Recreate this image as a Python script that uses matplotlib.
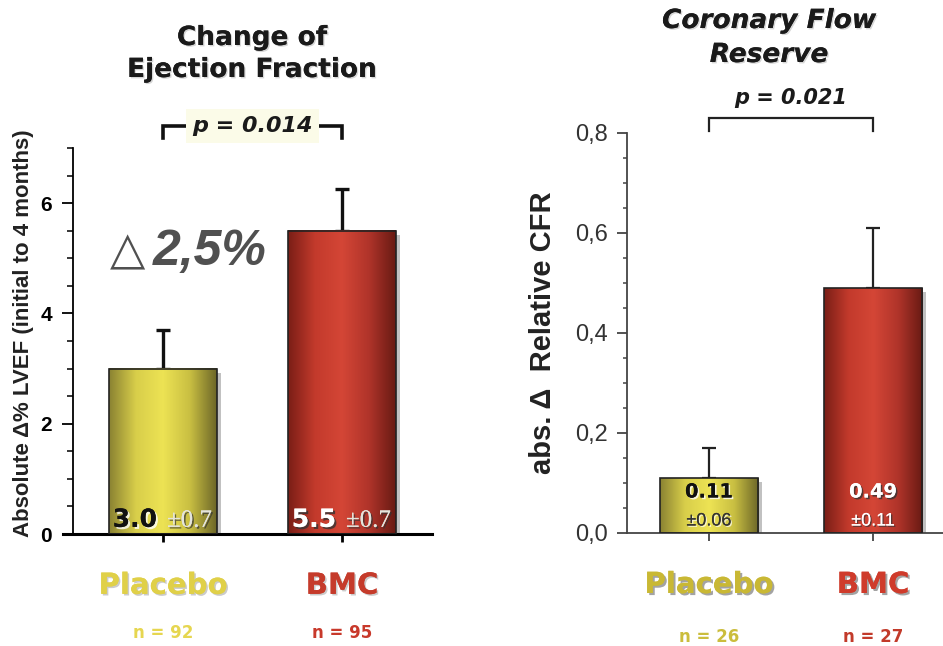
import numpy as np
import matplotlib
matplotlib.use('Agg')
import matplotlib.pyplot as plt
import matplotlib.patheffects as pe
from matplotlib.colors import LinearSegmentedColormap
from matplotlib.ticker import MultipleLocator

# --- data -------------------------------------------------------------
groups = ['Placebo', 'BMC']

lvef_mean = [3.0, 5.5]
lvef_err = [0.7, 0.75]
lvef_n = [92, 95]
lvef_sd_text = ['\u00b10.7', '\u00b10.7']
lvef_p = 'p = 0.014'
lvef_delta = '2,5%'

cfr_mean = [0.11, 0.49]
cfr_err = [0.06, 0.12]
cfr_n = [26, 27]
cfr_sd_text = ['\u00b10.06', '\u00b10.11']
cfr_p = 'p = 0.021'

W, H = 943, 646
fig = plt.figure(figsize=(W / 100, H / 100), dpi=100)

SANS = 'Liberation Sans'
HEAVY = 'DejaVu Sans'

yellow_cmap = LinearSegmentedColormap.from_list(
    'yel', ['#8a8232', '#d8ce4a', '#ede354', '#c9bf42', '#6c6628'])
red_cmap = LinearSegmentedColormap.from_list(
    'red', ['#7a1e16', '#c33a2c', '#d44636', '#b0342a', '#681a13'])


def px_axes(left, right, bottom, top):
    """axes from pixel edges (y measured from the top of the image)"""
    return fig.add_axes([left / W, 1 - bottom / H, (right - left) / W, (bottom - top) / H])


def shaded_bars(ax, x, vals, width, cmaps):
    bars = ax.bar(x, vals, width, color='#999999', zorder=2,
                  path_effects=[pe.withSimplePatchShadow(offset=(3, -3), shadow_rgbFace='#777777', alpha=0.45)])
    grad = np.linspace(0, 1, 256).reshape(1, -1)
    for b, cm in zip(bars, cmaps):
        x0, w, h = b.get_x(), b.get_width(), b.get_height()
        ax.imshow(grad, extent=[x0, x0 + w, 0, h], aspect='auto', cmap=cm, zorder=2.5)
    ax.bar(x, vals, width, fill=False, edgecolor='#222222', linewidth=1.2, zorder=3)
    return bars


def shadow(dx=1.5, dy=-1.5, col='#777777', a=0.6):
    return [pe.withSimplePatchShadow(offset=(dx, dy), shadow_rgbFace=col, alpha=a), pe.Normal()]


x = np.arange(len(groups))

# ===================== left panel: ejection fraction ====================
ax1 = px_axes(63, 432, 534, 148)
shaded_bars(ax1, x, lvef_mean, 0.6, [yellow_cmap, red_cmap])
ax1.errorbar(x, lvef_mean, yerr=[np.zeros(2), lvef_err], fmt='none', ecolor='#111111',
             elinewidth=2.4, capsize=5, capthick=2.4, zorder=1)
ax1.set_xlim(-0.559, 1.503)
ax1.set_ylim(0, 7)
for s in ['top', 'right']:
    ax1.spines[s].set_visible(False)
ax1.spines['left'].set_position(('data', -0.503))
ax1.spines['left'].set_linewidth(1.3)
ax1.spines['bottom'].set_linewidth(2.2)
ax1.yaxis.set_major_locator(MultipleLocator(2))
ax1.yaxis.set_minor_locator(MultipleLocator(0.5))
ax1.tick_params(axis='y', which='major', length=8, width=1.3, pad=7, labelsize=15)
ax1.tick_params(axis='y', which='minor', length=4, width=1.1)
for lab in ax1.get_yticklabels():
    lab.set_fontfamily(SANS)
    lab.set_fontweight('bold')
ax1.set_xticks(x)
ax1.set_xticklabels([])
ax1.tick_params(axis='x', length=6, width=2, direction='out')

# value labels inside the bars
ax1.text(x[0] - 0.034, 0.13, f'{lvef_mean[0]:.1f}', ha='right', va='baseline', fontsize=18,
         fontweight='bold', family=HEAVY, color='#111111', zorder=5,
         path_effects=shadow(1.5, -1.5, '#ffffff', 0.8))
ax1.text(x[1] - 0.034, 0.13, f'{lvef_mean[1]:.1f}', ha='right', va='baseline', fontsize=18,
         fontweight='bold', family=HEAVY, color='white', zorder=5,
         path_effects=shadow(1.5, -1.5, '#333333', 0.8))
for xi, t in zip(x, lvef_sd_text):
    ax1.text(xi + 0.022, 0.13, t, ha='left', va='baseline', fontsize=18, family='Liberation Serif',
             color='#e4e4dc', zorder=5, path_effects=shadow(1.2, -1.2, '#333333', 0.7))

# p-value bracket
ax1.plot([0, 0, 1, 1], [7.18, 7.4, 7.4, 7.18], color='#111111', lw=2.6, clip_on=False,
         solid_joinstyle='miter', zorder=4)
ax1.text(0.5, 7.4, lvef_p, ha='center', va='center', fontsize=16, fontweight='bold',
         style='italic', family=HEAVY, color='#1a1a1a', zorder=6, clip_on=False,
         bbox=dict(boxstyle='square,pad=0.3', fc='#fbfbe8', ec='none'))

# delta annotation
ax1.text(-0.296, 5.12, '\u25b3', ha='left', va='center', fontsize=33, family='DejaVu Sans',
         color='#505050', zorder=6)
ax1.text(-0.06, 5.12, lvef_delta, ha='left', va='center', fontsize=36, fontweight='bold',
         style='italic', family=SANS, color='#505050', zorder=6)

# category labels
cat_cols1 = ['#e0d048', '#c53b2b']
n_cols1 = ['#e6d650', '#c8392b']
for xi, g, c, n, nc in zip(x, groups, cat_cols1, lvef_n, n_cols1):
    ax1.text(xi, -0.94, g, ha='center', va='center', fontsize=21, fontweight='bold',
             family=HEAVY, color=c, clip_on=False, path_effects=shadow(1.2, -1.2, '#999999', 0.5))
    ax1.text(xi, -1.79, f'n = {n}', ha='center', va='center', fontsize=12, fontweight='bold',
             family=HEAVY, color=nc, clip_on=False)

fig.text(252 / W, 1 - 54 / H, 'Change of\nEjection Fraction', ha='center', va='center',
         fontsize=19, fontweight='bold', family=HEAVY, color='#1a1a1a', linespacing=1.3,
         path_effects=shadow(1, -1, '#999999', 0.4))
fig.text(24 / W, 1 - 333 / H, 'Absolute \u0394% LVEF (initial to 4 months)', rotation=90,
         ha='center', va='center', fontsize=16, fontweight='bold', family=SANS, color='#222222')

# ===================== right panel: coronary flow reserve ===============
ax2 = px_axes(627, 943, 533, 133)
shaded_bars(ax2, x, cfr_mean, 0.6, [yellow_cmap, red_cmap])
ax2.errorbar(x, cfr_mean, yerr=[np.zeros(2), cfr_err], fmt='none', ecolor='#222222',
             elinewidth=1.6, capsize=5, capthick=1.6, zorder=1)
ax2.set_xlim(-0.5, 1.427)
ax2.set_ylim(0, 0.8)
for s in ['top', 'right']:
    ax2.spines[s].set_visible(False)
for s in ['left', 'bottom']:
    ax2.spines[s].set_linewidth(1.3)
    ax2.spines[s].set_color('#444444')
ax2.yaxis.set_major_locator(MultipleLocator(0.2))
ax2.yaxis.set_minor_locator(MultipleLocator(0.05))
ax2.yaxis.set_major_formatter(lambda v, pos: f'{v:.1f}'.replace('.', ','))
ax2.tick_params(axis='y', which='major', length=7, width=1.3, pad=7, labelsize=17,
                color='#444444', labelcolor='#333333')
ax2.tick_params(axis='y', which='minor', length=3, width=1.1, color='#444444')
for lab in ax2.get_yticklabels():
    lab.set_fontfamily(SANS)
ax2.set_xticks(x)
ax2.set_xticklabels([])
ax2.tick_params(axis='x', length=6, width=1.3, color='#444444', direction='out')

ax2.text(x[0], 0.082, f'{cfr_mean[0]:.2f}', ha='center', va='center', fontsize=14,
         fontweight='bold', family=HEAVY, color='#111111', zorder=5,
         path_effects=shadow(1.2, -1.2, '#ffffff', 0.8))
ax2.text(x[1], 0.082, f'{cfr_mean[1]:.2f}', ha='center', va='center', fontsize=14,
         fontweight='bold', family=HEAVY, color='white', zorder=5,
         path_effects=shadow(1.2, -1.2, '#333333', 0.8))
ax2.text(x[0], 0.024, cfr_sd_text[0], ha='center', va='center', fontsize=13, family=SANS,
         color='#333333', zorder=5, path_effects=shadow(1, -1, '#ffffff', 0.7))
ax2.text(x[1], 0.024, cfr_sd_text[1], ha='center', va='center', fontsize=13, family=SANS,
         color='white', zorder=5, path_effects=shadow(1, -1, '#333333', 0.7))

ax2.plot([0, 0, 1, 1], [0.804, 0.83, 0.83, 0.804], color='#222222', lw=1.6, clip_on=False,
         solid_joinstyle='miter')
ax2.text(0.5, 0.87, cfr_p, ha='center', va='center', fontsize=15, fontweight='bold',
         style='italic', family=HEAVY, color='#1a1a1a', clip_on=False)

cat_cols2 = ['#c9b834', '#cf3b2b']
n_cols2 = ['#cbbd3c', '#c23a2a']
for xi, g, c, n, nc in zip(x, groups, cat_cols2, cfr_n, n_cols2):
    ax2.text(xi, -0.104, g, ha='center', va='center', fontsize=21, fontweight='bold',
             family=HEAVY, color=c, clip_on=False, path_effects=shadow(1.5, -1.5, '#666666', 0.6))
    ax2.text(xi, -0.208, f'n = {n}', ha='center', va='center', fontsize=12, fontweight='bold',
             family=HEAVY, color=nc, clip_on=False)

fig.text(769 / W, 1 - 38 / H, 'Coronary Flow\nReserve', ha='center', va='center',
         fontsize=19, fontweight='bold', style='italic', family=HEAVY, color='#1a1a1a',
         linespacing=1.4, path_effects=shadow(1, -1, '#999999', 0.4))
fig.text(543 / W, 1 - 333 / H, 'abs. \u0394  Relative CFR', rotation=90, ha='center', va='center',
         fontsize=21, fontweight='bold', family=SANS, color='#222222')

fig.savefig('out.png', dpi=100)
